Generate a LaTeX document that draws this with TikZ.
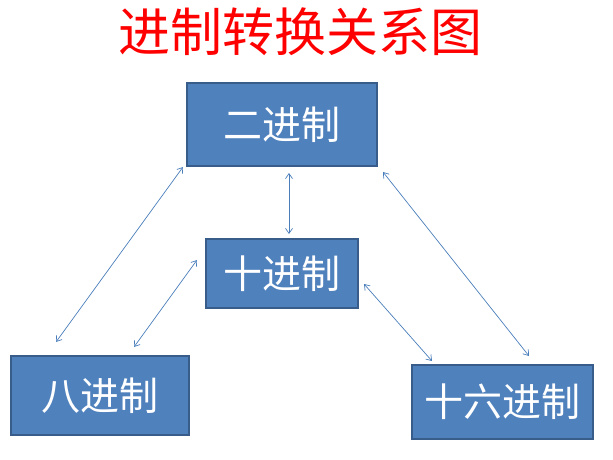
\documentclass[tikz,border=0pt]{standalone}
\usepackage{fontspec}
\newfontfamily\cjk{Noto Sans CJK SC}
\usetikzlibrary{arrows.meta}
\definecolor{boxfill}{HTML}{4F81BD}
\definecolor{boxline}{HTML}{385D8A}
\definecolor{arr}{HTML}{4A7EBB}
\begin{document}
\begin{tikzpicture}[x=1pt,y=-1pt,
  box/.style={draw=boxline, line width=1.5pt, fill=boxfill, text=white,
    font=\cjk\fontsize{39}{41}\selectfont, inner sep=0pt},
  link/.style={draw=arr, line width=0.7pt,
    {Straight Barb[length=5pt,width=7pt]}-{Straight Barb[length=5pt,width=7pt]}}]
\useasboundingbox (0,0) rectangle (613,460);
\node[text=red, font=\cjk\fontsize{52}{54}\selectfont] (title) at (300,32) {进制转换关系图};
\node[box, minimum width=190pt, minimum height=83pt] (bin) at (282,124.5) {二进制};
\node[box, minimum width=152pt, minimum height=69pt] (dec) at (282,273.5) {十进制};
\node[box, minimum width=178pt, minimum height=79pt] (oct) at (100,395.5) {八进制};
\node[box, minimum width=181pt, minimum height=74pt] (hex) at (502.5,402) {十六进制};
\coordinate (a1s) at (183,167); \coordinate (a1e) at (56,342);
\coordinate (a2s) at (289,173); \coordinate (a2e) at (289,234);
\coordinate (a3s) at (197,260); \coordinate (a3e) at (134,347);
\coordinate (a4s) at (364,284); \coordinate (a4e) at (432,361);
\coordinate (a5s) at (383,172); \coordinate (a5e) at (529,356);
\draw[link] (a1s) -- (a1e);
\draw[link] (a2s) -- (a2e);
\draw[link] (a3s) -- (a3e);
\draw[link] (a4s) -- (a4e);
\draw[link] (a5s) -- (a5e);
\end{tikzpicture}
\end{document}
